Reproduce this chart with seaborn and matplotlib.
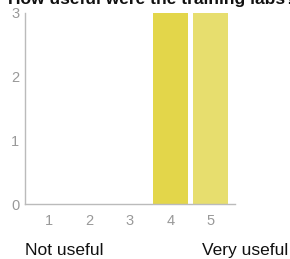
import matplotlib
matplotlib.use("Agg")
import matplotlib.pyplot as plt
import seaborn as sns
import pandas as pd

categories = ["1", "2", "3", "4", "5"]
counts = [0, 0, 0, 3, 3]
bar_colors = ["#E6DE6C", "#E6DE6C", "#E6DE6C", "#E3D64A", "#E7DE6E"]
y_ticks = [0, 1, 2, 3]
title = "How useful were the training labs?"
low_label = "Not useful"
high_label = "Very useful"

sns.set_style("white")
plt.rcParams['font.family'] = ['Liberation Sans', 'DejaVu Sans']

df = pd.DataFrame({"rating": categories, "count": counts})

fig = plt.figure(figsize=(2.9, 2.59), dpi=100)
ax = fig.add_axes([25/290, 1 - 204/259, 210/290, 191/259])
sns.barplot(data=df, x="rating", y="count", hue="rating", palette=bar_colors,
            legend=False, width=0.86, saturation=1, ax=ax, linewidth=0)

ax.set_xlim(-0.6, 4.6)
ax.set_ylim(0, 3)
ax.set_yticks(y_ticks)
ax.set_xlabel("")
ax.set_ylabel("")
for s in ["top", "right"]:
    ax.spines[s].set_visible(False)
for s in ["left", "bottom"]:
    ax.spines[s].set_color("#bbbbbb")
    ax.spines[s].set_linewidth(1)
ax.tick_params(axis="both", colors="#bbbbbb", labelcolor="#999999", labelsize=10.5,
               length=3, width=1, direction="out", pad=1)
ax.tick_params(axis="x", pad=4)

fig.text(8/290, 1 - 4/259, title, fontsize=12.5, fontweight="bold", color="#111111",
         ha="left", va="baseline")
fig.text(25/290, 1 - 255/259, low_label, fontsize=12.5, color="#111111", ha="left", va="baseline")
fig.text(288/290, 1 - 255/259, high_label, fontsize=12.5, color="#111111", ha="right", va="baseline")

fig.savefig("out.png", dpi=100)
